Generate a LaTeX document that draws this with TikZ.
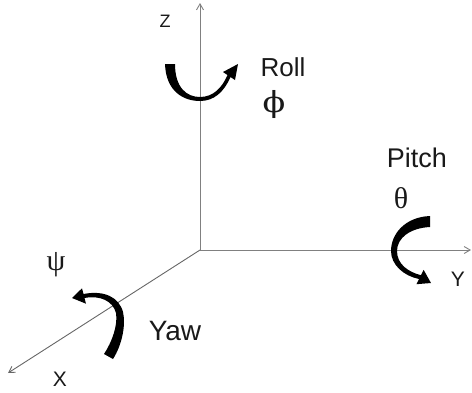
\documentclass[tikz,border=0pt]{standalone}
\usepackage{fontspec}
\setmainfont{Liberation Sans}
\newfontfamily\greekfont{Liberation Serif}
\newfontfamily\phifont{DejaVu Serif}
\usetikzlibrary{arrows.meta}

\begin{document}
\begin{tikzpicture}[x=1pt,y=-1pt,
  axis/.style={draw=gray, line width=0.9pt, -{Straight Barb[length=6pt,width=7pt]}},
  lbl/.style={inner sep=0pt, text=black!90},
  grk/.style={inner sep=0pt, text=black!90, font=\greekfont\fontsize{30}{34}\selectfont}]
\useasboundingbox (0,0) rectangle (472,392);

% axes
\coordinate (O) at (200,250);
\coordinate (Zend) at (200,3);
\coordinate (Yend) at (471,250);
\coordinate (Xend) at (8,373);
\draw[axis] (O) -- (Zend);
\draw[axis] (O) -- (Yend);
\draw[axis,draw=gray!80!black] (O) -- (Xend);

\node[lbl,font=\fontsize{18}{20}\selectfont] (zlab) at (165,21) {Z};
\node[lbl,font=\fontsize{21}{24}\selectfont] (ylab) at (458,279) {Y};
\node[lbl,font=\fontsize{21}{24}\selectfont] (xlab) at (60,379) {X};

% roll about Z
\fill (165,64) .. controls (166,92) and (184,101) .. (200,101)
  .. controls (214,101) and (224,92) .. (230.5,77) -- (235,80) -- (238,64) -- (223,72)
  -- (227.5,75) .. controls (222,88) and (213,97) .. (200,97)
  .. controls (187,97) and (175,88) .. (175,64) -- cycle;
\node[lbl,font=\fontsize{26}{30}\selectfont] (roll) at (283,67) {Roll};
\node[grk,font=\phifont\fontsize{29}{32}\selectfont,xscale=1.15] (phi) at (274,104) {ϕ};

% pitch about Y
\fill (430,216) .. controls (405,217) and (391,234) .. (391,251)
  .. controls (391,265) and (404,276) .. (419,279) -- (416.4,284.2) -- (431,283) -- (423.6,269.8)
  -- (421,275.2) .. controls (408,272) and (397,264) .. (397,251)
  .. controls (397,238) and (410,228) .. (430,227) -- cycle;
\node[lbl,font=\fontsize{27}{30}\selectfont] (pitch) at (417,158) {Pitch};
\node[grk] (theta) at (401,198) {θ};

% yaw about X
\fill (113,359) .. controls (122,345) and (126,325) .. (123,312)
  .. controls (119,297) and (104,290) .. (83.5,294) -- (82,288.3) -- (72,298) -- (86,303.7)
  -- (84.5,298) .. controls (100,295) and (113,301) .. (116,313)
  .. controls (118,325) and (112,342) .. (104,354) -- cycle;
\node[lbl,font=\fontsize{28}{32}\selectfont] (yaw) at (175,331) {Yaw};
\node[grk] (psi) at (56,265) {ψ};
\end{tikzpicture}
\end{document}
